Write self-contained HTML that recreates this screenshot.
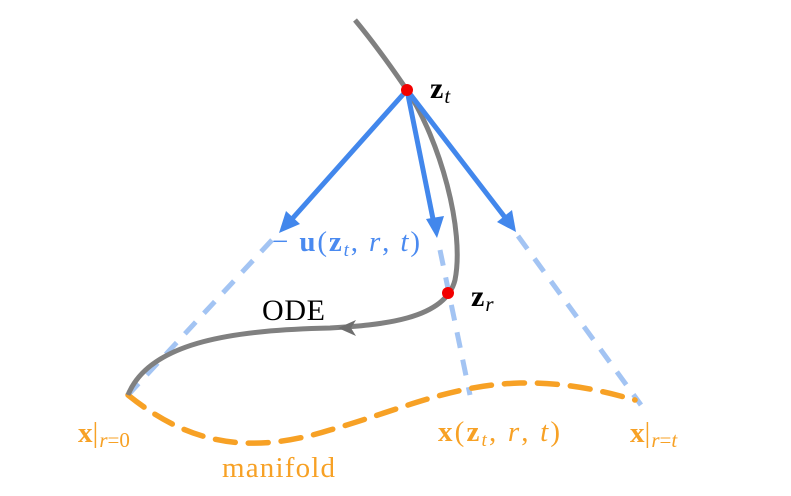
<!DOCTYPE html>
<html><head><meta charset="utf-8"><style>
html,body{margin:0;padding:0;background:#fff;width:791px;height:496px;overflow:hidden}
svg{display:block}
text{font-family:"Liberation Serif",serif}
</style></head><body>
<svg width="791" height="496" viewBox="0 0 791 496" xmlns="http://www.w3.org/2000/svg">
<g stroke="#a3c4f3" stroke-width="5" stroke-dasharray="16,12" fill="none">
<line x1="272" y1="240" x2="128" y2="395"/>
<line x1="440" y1="250" x2="470" y2="395"/>
<line x1="518" y1="236" x2="641" y2="405"/>
</g>
<path d="M128,395 C190,445 250,455 330,430 C400,410 450,385 520,383 C570,382 610,393 635,400" stroke="#f7a125" stroke-width="5.5" stroke-dasharray="20,13" fill="none" stroke-linecap="round"/>
<path d="M355,20 C380,50 400,80 407,90 C440,140 465,230 455,280 C445,320 380,325 330,328 C240,330 150,340 128,395" stroke="#808080" stroke-width="5" fill="none"/>
<path d="M338,328 L356,320 L351,328 L356,336 Z" fill="#6e6e6e"/>
<g stroke="#4287ec" stroke-width="5" fill="none">
<line x1="407" y1="90" x2="292" y2="219"/>
<line x1="407" y1="90" x2="434" y2="224"/>
<line x1="407" y1="90" x2="507" y2="220"/>
</g>
<path d="M279,233 L286,211 L300,224 Z" fill="#4287ec"/>
<path d="M437,238 L426,219 L444,216 Z" fill="#4287ec"/>
<path d="M516,232 L497,222 L512,210 Z" fill="#4287ec"/>
<circle cx="407" cy="90" r="6" fill="#f20000"/>
<circle cx="448" cy="293" r="6" fill="#f20000"/>
<text x="430" y="98" font-size="30" font-weight="bold">z<tspan font-size="21" font-style="italic" font-weight="normal" dy="5" dx="1">t</tspan></text>
<text x="471" y="306" font-size="30" font-weight="bold">z<tspan font-size="21" font-style="italic" font-weight="normal" dy="5" dx="1">r</tspan></text>
<text x="272" y="251" font-size="29" fill="#4a8af0" textLength="148" lengthAdjust="spacing">− <tspan font-weight="bold">u</tspan>(<tspan font-weight="bold">z</tspan><tspan font-size="19" font-style="italic" dy="5">t</tspan><tspan dy="-5">, </tspan><tspan font-style="italic">r</tspan>, <tspan font-style="italic">t</tspan>)</text>
<text x="262" y="320" font-size="30" textLength="63" lengthAdjust="spacing">ODE</text>
<g fill="#f7a125">
<text x="78" y="442" font-size="29"><tspan font-weight="bold">x</tspan>|<tspan font-size="21" font-style="italic" dy="5" dx="1">r</tspan><tspan font-size="21">=0</tspan></text>
<text x="438" y="441" font-size="29" textLength="122" lengthAdjust="spacing"><tspan font-weight="bold">x</tspan>(<tspan font-weight="bold">z</tspan><tspan font-size="19" font-style="italic" dy="5">t</tspan><tspan dy="-5">, </tspan><tspan font-style="italic">r</tspan>, <tspan font-style="italic">t</tspan>)</text>
<text x="630" y="442" font-size="29"><tspan font-weight="bold">x</tspan>|<tspan font-size="21" font-style="italic" dy="5" dx="1">r</tspan><tspan font-size="21">=</tspan><tspan font-size="21" font-style="italic">t</tspan></text>
<text x="222" y="477" font-size="29" textLength="113" lengthAdjust="spacing">manifold</text>
</g>
</svg>
</body></html>
